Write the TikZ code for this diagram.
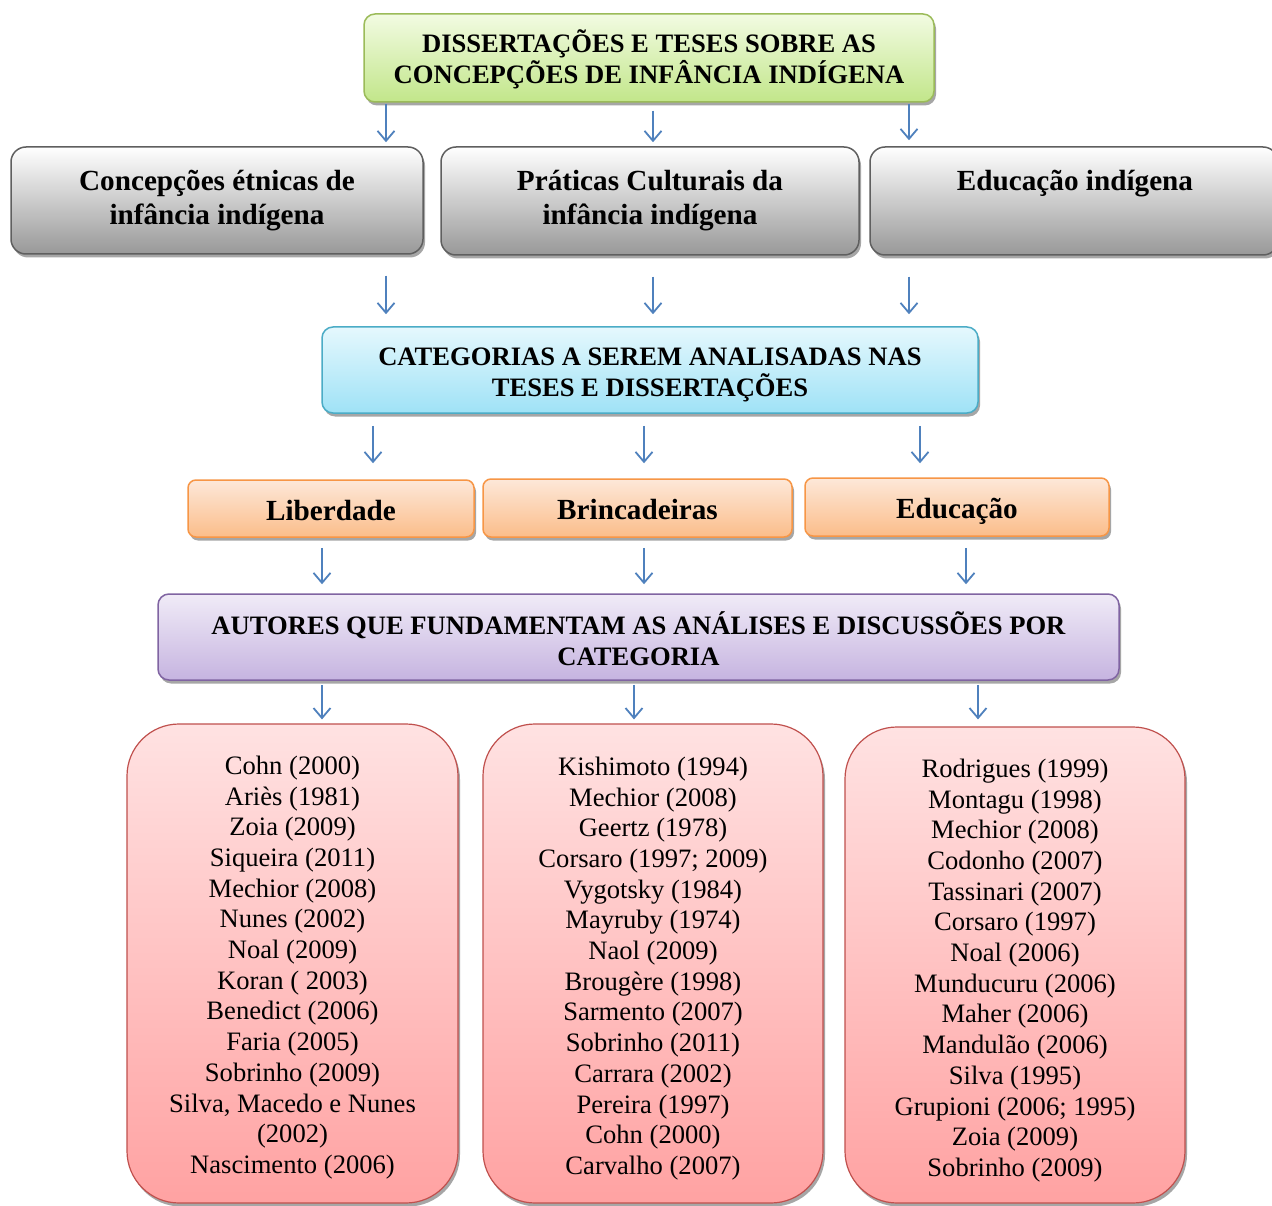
\documentclass[tikz,border=0pt]{standalone}
\usepackage{fontspec}
\setmainfont{Liberation Serif}
\usetikzlibrary{arrows.meta,shadows}
\definecolor{arrc}{HTML}{4F81BD}
\definecolor{grnb}{HTML}{9BBB59}
\definecolor{grnt}{HTML}{F2FBE2}
\definecolor{grnd}{HTML}{C2E68A}
\definecolor{gryb}{HTML}{5F5F5F}
\definecolor{gryd}{HTML}{989898}
\definecolor{cynb}{HTML}{4BACC6}
\definecolor{cynt}{HTML}{E5F8FD}
\definecolor{cynd}{HTML}{9FE2F6}
\definecolor{orab}{HTML}{F79646}
\definecolor{orat}{HTML}{FDE8D9}
\definecolor{orad}{HTML}{FBBD8A}
\definecolor{purb}{HTML}{8064A2}
\definecolor{purt}{HTML}{F0EBF7}
\definecolor{purd}{HTML}{C6B4E0}
\definecolor{redb}{HTML}{C0504D}
\definecolor{redt}{HTML}{FFE2E2}
\definecolor{redd}{HTML}{FFA2A2}
\tikzset{
  box/.style={draw, line width=1.5pt, inner sep=0pt, anchor=center,
    drop shadow={shadow xshift=2pt, shadow yshift=-3.5pt, fill=black!35, opacity=1}},
  greenbox/.style={box, draw=grnb, top color=grnt, bottom color=grnd, rounded corners=11pt},
  graybox/.style={box, draw=gryb, top color=white, bottom color=gryd, rounded corners=15pt},
  cyanbox/.style={box, draw=cynb, top color=cynt, bottom color=cynd, rounded corners=11pt},
  orangebox/.style={box, draw=orab, top color=orat, bottom color=orad, rounded corners=8pt},
  purplebox/.style={box, draw=purb, top color=purt, bottom color=purd, rounded corners=11pt},
  redbox/.style={box, draw=redb, top color=redt, bottom color=redd, rounded corners=52pt,
    line width=1.2pt},
  headtxt/.style={align=center, inner sep=0pt, font=\fontsize{26.6}{30.5}\selectfont\bfseries},
  bigtxt/.style={align=center, inner sep=0pt, font=\fontsize{29.2}{34}\selectfont\bfseries},
  listtxt/.style={align=center, inner sep=0pt, font=\fontsize{26.6}{30.7}\selectfont},
  arr/.style={draw=arrc, line width=1.8pt, -{Straight Barb[length=10pt,width=17pt,line width=1.8pt]}}
}
\begin{document}
\begin{tikzpicture}[x=1pt,y=-1pt]
\clip (0,0) rectangle (1272,1206);
\fill[white] (0,0) rectangle (1272,1206);

% column x positions for connectors
\coordinate (r1a) at (386,0);
\coordinate (r1b) at (653,0);
\coordinate (r1c) at (909,0);
\coordinate (r3a) at (373,0);
\coordinate (r3b) at (644,0);
\coordinate (r3c) at (920,0);
\coordinate (r4a) at (322,0);
\coordinate (r4b) at (644,0);
\coordinate (r4c) at (966,0);
\coordinate (r5a) at (322,0);
\coordinate (r5b) at (634,0);
\coordinate (r5c) at (978,0);

% boxes
\node[greenbox, minimum width=570pt, minimum height=88pt] (top) at (649,58) {};
\node[graybox, minimum width=412pt, minimum height=107pt] (g1) at (217,200.5) {};
\node[graybox, minimum width=418pt, minimum height=108pt] (g2) at (650,201) {};
\node[graybox, minimum width=408pt, minimum height=108pt] (g3) at (1074,201) {};
\node[cyanbox, minimum width=656pt, minimum height=86pt] (cat) at (650,370) {};
\node[orangebox, minimum width=286pt, minimum height=57pt] (o1) at (331,508.5) {};
\node[orangebox, minimum width=309pt, minimum height=58pt] (o2) at (637.5,508) {};
\node[orangebox, minimum width=304pt, minimum height=58pt] (o3) at (957,507) {};
\node[purplebox, minimum width=961pt, minimum height=86pt] (aut) at (638.5,637) {};
\node[redbox, minimum width=331pt, minimum height=479pt] (l1) at (292.5,963.5) {};
\node[redbox, minimum width=340pt, minimum height=479pt] (l2) at (653,963.5) {};
\node[redbox, minimum width=340pt, minimum height=476pt] (l3) at (1015,965) {};

% texts
\node[headtxt] (ttop) at ([yshift=-1.5pt]top.center)
  {DISSERTAÇÕES E TESES SOBRE AS\\CONCEPÇÕES DE INFÂNCIA  INDÍGENA};
\node[bigtxt] (tg1) at (g1.center) {Concepções étnicas de\\infância indígena};
\node[bigtxt] (tg2) at (g2.center) {Práticas Culturais da\\infância indígena};
\node[bigtxt, anchor=base] (tg3) at (1075,191) {Educação indígena};
\node[headtxt] (tcat) at ([yshift=-5pt]cat.center)
  {CATEGORIAS A SEREM ANALISADAS NAS\\TESES E DISSERTAÇÕES};
\node[bigtxt] (to1) at ([yshift=-2pt]o1.center) {Liberdade};
\node[bigtxt] (to2) at ([yshift=-2pt]o2.center) {Brincadeiras};
\node[bigtxt] (to3) at ([yshift=-4pt]o3.center) {Educação};
\node[headtxt] (taut) at ([yshift=-1.5pt]aut.center)
  {AUTORES QUE FUNDAMENTAM AS ANÁLISES E DISCUSSÕES POR\\CATEGORIA};
\node[listtxt] (tl1) at ([yshift=-4pt]l1.center)
  {Cohn (2000)\\Ariès (1981)\\Zoia (2009)\\Siqueira (2011)\\Mechior (2008)\\Nunes (2002)\\Noal (2009)\\Koran ( 2003)\\Benedict (2006)\\Faria (2005)\\Sobrinho (2009)\\Silva, Macedo e Nunes\\(2002)\\Nascimento (2006)};
\node[listtxt] (tl2) at ([yshift=-5pt]l2.center)
  {Kishimoto (1994)\\Mechior (2008)\\Geertz (1978)\\Corsaro (1997; 2009)\\Vygotsky (1984)\\Mayruby (1974)\\Naol (2009)\\Brougère (1998)\\Sarmento (2007)\\Sobrinho (2011)\\Carrara (2002)\\Pereira (1997)\\Cohn (2000)\\Carvalho (2007)};
\node[listtxt] (tl3) at ([yshift=-5.5pt]l3.center)
  {Rodrigues (1999)\\Montagu (1998)\\Mechior (2008)\\Codonho (2007)\\Tassinari (2007)\\Corsaro (1997)\\Noal (2006)\\Munducuru (2006)\\Maher (2006)\\Mandulão (2006)\\Silva (1995)\\Grupioni (2006; 1995)\\Zoia (2009)\\Sobrinho (2009)};

% row 1: title -> themes
\draw[arr, shorten <=1pt, shorten >=4pt] (top.south -| r1a) -- (g1.north -| r1a);
\draw[arr, shorten <=8pt, shorten >=4pt] (top.south -| r1b) -- (g2.north -| r1b);
\draw[arr, shorten <=1pt, shorten >=6pt] (top.south -| r1c) -- (g3.north -| r1c);
% row 2: themes -> categories
\draw[arr, shorten <=21pt, shorten >=12pt] (g1.south -| r1a) -- (cat.north -| r1a);
\draw[arr, shorten <=21pt, shorten >=12pt] (g2.south -| r1b) -- (cat.north -| r1b);
\draw[arr, shorten <=21pt, shorten >=12pt] (g3.south -| r1c) -- (cat.north -| r1c);
% row 3: categories -> orange
\draw[arr, shorten <=12pt, shorten >=16pt] (cat.south -| r3a) -- (o1.north -| r3a);
\draw[arr, shorten <=12pt, shorten >=15pt] (cat.south -| r3b) -- (o2.north -| r3b);
\draw[arr, shorten <=12pt, shorten >=14pt] (cat.south -| r3c) -- (o3.north -| r3c);
% row 4: orange -> authors
\draw[arr, shorten <=10pt, shorten >=9pt] (o1.south -| r4a) -- (aut.north -| r4a);
\draw[arr, shorten <=10pt, shorten >=9pt] (o2.south -| r4b) -- (aut.north -| r4b);
\draw[arr, shorten <=11pt, shorten >=9pt] (o3.south -| r4c) -- (aut.north -| r4c);
% row 5: authors -> lists
\draw[arr, shorten <=4pt, shorten >=4pt] (aut.south -| r5a) -- (l1.north -| r5a);
\draw[arr, shorten <=4pt, shorten >=4pt] (aut.south -| r5b) -- (l2.north -| r5b);
\draw[arr, shorten <=4pt, shorten >=7pt] (aut.south -| r5c) -- (l3.north -| r5c);
\end{tikzpicture}
\end{document}
